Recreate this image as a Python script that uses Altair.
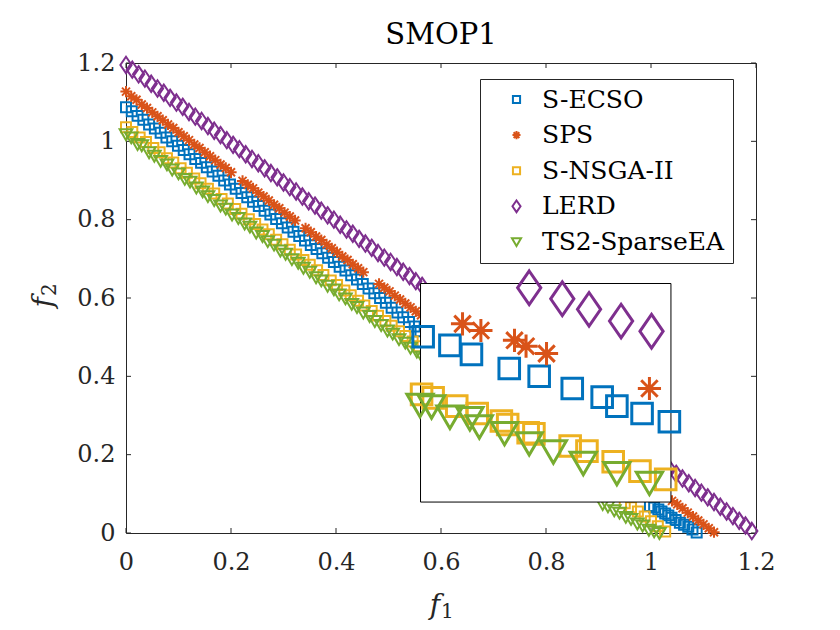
import altair as alt
import pandas as pd

series = ["S-ECSO", "SPS", "S-NSGA-II", "LERD", "TS2-SparseEA"]
colors = ["#0072BD", "#D95319", "#EDB120", "#7E2F8E", "#77AC30"]

# ---- main plot points (f1, f2) ----
secso_f1 = [0.000, 0.011, 0.022, 0.033, 0.044, 0.055, 0.066, 0.077, 0.088, 0.099, 0.110, 0.121, 0.132, 0.143,
            0.154, 0.165, 0.176, 0.187, 0.198, 0.209, 0.220, 0.231, 0.242, 0.253, 0.264, 0.275, 0.286, 0.297,
            0.308, 0.319, 0.330, 0.341, 0.352, 0.363, 0.374, 0.385, 0.396, 0.407, 0.418, 0.429, 0.440, 0.451,
            0.462, 0.473, 0.484, 0.495, 0.506, 0.517, 0.528, 0.539, 0.550, 0.561,
            0.998, 1.006, 1.014, 1.020, 1.027, 1.033, 1.039, 1.047, 1.055, 1.063, 1.071, 1.079, 1.087]
secso_f2 = [1.087, 1.077, 1.065, 1.055, 1.043, 1.033, 1.022, 1.010, 1.000, 0.989, 0.978, 0.967, 0.955, 0.945,
            0.934, 0.923, 0.912, 0.900, 0.890, 0.879, 0.868, 0.857, 0.846, 0.835, 0.823, 0.813, 0.802, 0.791,
            0.780, 0.769, 0.758, 0.747, 0.735, 0.725, 0.714, 0.703, 0.692, 0.680, 0.670, 0.658, 0.647, 0.636,
            0.624, 0.612, 0.600, 0.588, 0.575, 0.563, 0.551, 0.539, 0.527, 0.515,
            0.069, 0.065, 0.060, 0.055, 0.050, 0.045, 0.039, 0.033, 0.026, 0.021, 0.016, 0.009, 0.001]

sps_f1 = [0.000, 0.010, 0.020, 0.030, 0.040, 0.050, 0.060, 0.070, 0.080, 0.090, 0.100, 0.110, 0.120, 0.130,
          0.140, 0.150, 0.160, 0.170, 0.180, 0.190, 0.200,
          0.222, 0.232, 0.242, 0.252, 0.262, 0.272, 0.282, 0.292, 0.302, 0.312, 0.322,
          0.342, 0.352, 0.362, 0.372, 0.382, 0.392, 0.402, 0.412, 0.422, 0.432, 0.442, 0.452,
          0.482, 0.492, 0.502, 0.512, 0.522, 0.532, 0.542, 0.552, 0.562,
          1.040, 1.050, 1.060, 1.070, 1.080, 1.090, 1.100, 1.110, 1.120]
sps_f2 = [1.127, 1.115, 1.106, 1.094, 1.085, 1.074, 1.064, 1.054, 1.043, 1.034, 1.023, 1.013, 1.003, 0.992,
          0.983, 0.972, 0.962, 0.952, 0.941, 0.932, 0.921,
          0.899, 0.889, 0.880, 0.869, 0.859, 0.849, 0.838, 0.829, 0.818, 0.808, 0.798,
          0.778, 0.768, 0.757, 0.748, 0.737, 0.727, 0.717, 0.706, 0.697, 0.686, 0.676, 0.666,
          0.636, 0.626, 0.617, 0.606, 0.596, 0.586, 0.576, 0.566, 0.556,
          0.082, 0.073, 0.063, 0.052, 0.042, 0.032, 0.022, 0.012, 0.002]

snsga_f1 = [0.000, 0.012, 0.026, 0.038, 0.052, 0.064, 0.078, 0.090, 0.104, 0.116, 0.130, 0.142, 0.156, 0.168,
            0.182, 0.194, 0.208, 0.220, 0.234, 0.246, 0.260, 0.272, 0.286, 0.298, 0.312, 0.324, 0.338, 0.350,
            0.364, 0.376, 0.390, 0.402, 0.416, 0.428, 0.442, 0.454, 0.468, 0.480, 0.494, 0.506, 0.520, 0.532,
            0.546, 0.558,
            0.950, 0.962, 0.975, 0.988, 1.000, 1.013, 1.027]
snsga_f2 = [1.036, 1.024, 1.010, 0.998, 0.983, 0.972, 0.957, 0.946, 0.931, 0.920, 0.905, 0.893, 0.879, 0.867,
            0.853, 0.841, 0.827, 0.815, 0.801, 0.789, 0.775, 0.763, 0.749, 0.737, 0.723, 0.711, 0.697, 0.685,
            0.671, 0.659, 0.645, 0.633, 0.619, 0.607, 0.593, 0.581, 0.567, 0.555, 0.541, 0.529, 0.515, 0.503,
            0.489, 0.477,
            0.076, 0.066, 0.055, 0.042, 0.030, 0.017, 0.004]

lerd_f1 = [0.000, 0.012, 0.024, 0.036, 0.048, 0.060, 0.072, 0.084, 0.096, 0.108, 0.120, 0.132, 0.144, 0.156,
           0.168, 0.180, 0.192, 0.204, 0.216, 0.228, 0.240, 0.252, 0.264, 0.276, 0.288, 0.300, 0.312, 0.324,
           0.336, 0.348, 0.360, 0.372, 0.384, 0.396, 0.408, 0.420, 0.432, 0.444, 0.456, 0.468, 0.480, 0.492,
           0.504, 0.516, 0.528, 0.540, 0.552, 0.564,
           1.036, 1.048, 1.060, 1.072, 1.084, 1.096, 1.108, 1.120, 1.132, 1.144, 1.156, 1.168, 1.180, 1.192]
lerd_f2 = [1.195, 1.183, 1.171, 1.160, 1.147, 1.135, 1.124, 1.111, 1.099, 1.088, 1.075, 1.063, 1.052, 1.039,
           1.027, 1.016, 1.003, 0.991, 0.980, 0.967, 0.955, 0.944, 0.931, 0.919, 0.908, 0.895, 0.883, 0.872,
           0.859, 0.847, 0.836, 0.823, 0.811, 0.800, 0.787, 0.775, 0.764, 0.751, 0.739, 0.728, 0.715, 0.703,
           0.692, 0.679, 0.667, 0.656, 0.643, 0.631,
           0.163, 0.151, 0.139, 0.127, 0.115, 0.103, 0.091, 0.079, 0.067, 0.055, 0.043, 0.031, 0.019, 0.005]

ts2_f1 = [0.000, 0.010, 0.022, 0.030, 0.044, 0.054, 0.066, 0.078, 0.088, 0.100, 0.112, 0.122, 0.134, 0.146,
          0.156, 0.168, 0.180, 0.190, 0.202, 0.214, 0.226, 0.236, 0.248, 0.260, 0.270, 0.282, 0.294, 0.304,
          0.316, 0.328, 0.338, 0.350, 0.362, 0.372, 0.384, 0.396, 0.406, 0.418, 0.430, 0.440, 0.452, 0.464,
          0.474, 0.486, 0.498, 0.508, 0.520, 0.532, 0.542, 0.554, 0.564,
          0.908, 0.918, 0.930, 0.940, 0.952, 0.962, 0.974, 0.984, 0.996, 1.006, 1.016]
ts2_f2 = [1.018, 1.010, 0.993, 0.990, 0.972, 0.963, 0.950, 0.941, 0.928, 0.918, 0.904, 0.897, 0.882, 0.872,
          0.860, 0.850, 0.836, 0.828, 0.813, 0.804, 0.790, 0.782, 0.767, 0.758, 0.745, 0.736, 0.721, 0.713,
          0.699, 0.690, 0.677, 0.667, 0.653, 0.645, 0.631, 0.622, 0.609, 0.599, 0.585, 0.577, 0.563, 0.554,
          0.541, 0.531, 0.517, 0.509, 0.495, 0.486, 0.473, 0.463, 0.450,
          0.074, 0.068, 0.058, 0.052, 0.041, 0.036, 0.024, 0.019, 0.008, 0.004, 0.000]

# ---- inset (zoomed) points, read in main-axis coordinates ----
in_secso_f1 = [0.566, 0.617, 0.658, 0.730, 0.787, 0.850, 0.907, 0.935, 0.983, 1.035]
in_secso_f2 = [0.501, 0.479, 0.456, 0.420, 0.400, 0.369, 0.347, 0.324, 0.305, 0.284]
in_sps_f1 = [0.641, 0.676, 0.740, 0.762, 0.801, 0.997]
in_sps_f2 = [0.534, 0.517, 0.492, 0.477, 0.458, 0.369]
in_snsga_f1 = [0.563, 0.585, 0.630, 0.669, 0.715, 0.727, 0.766, 0.777, 0.846, 0.878, 0.928, 0.979, 1.028]
in_snsga_f2 = [0.354, 0.345, 0.324, 0.305, 0.286, 0.277, 0.256, 0.253, 0.222, 0.209, 0.182, 0.158, 0.137]
in_lerd_f1 = [0.768, 0.831, 0.882, 0.943, 1.001]
in_lerd_f2 = [0.626, 0.598, 0.571, 0.541, 0.515]
in_ts2_f1 = [0.560, 0.582, 0.617, 0.655, 0.673, 0.721, 0.768, 0.814, 0.871, 0.935, 0.997]
in_ts2_f2 = [0.328, 0.324, 0.298, 0.294, 0.273, 0.256, 0.230, 0.209, 0.180, 0.154, 0.129]

# inset frame extent in f1/f2 coordinates: [f1 min, f1 max, f2 min, f2 max]
inset_extent = [0.561, 1.038, 0.079, 0.637]

tick_values = [0, 0.2, 0.4, 0.6, 0.8, 1.0, 1.2]
title_text = "SMOP1"
x_title = ["f", "1"]
y_title = ["f", "2"]


def frame(names, f1s, f2s):
    rows = []
    for n, a, b in zip(names, f1s, f2s):
        for x, y in zip(a, b):
            rows.append({"series": n, "f1": x, "f2": y})
    return pd.DataFrame(rows)


main_df = frame(series, [secso_f1, sps_f1, snsga_f1, lerd_f1, ts2_f1],
                [secso_f2, sps_f2, snsga_f2, lerd_f2, ts2_f2])
inset_df = frame(series, [in_secso_f1, in_sps_f1, in_snsga_f1, in_lerd_f1, in_ts2_f1],
                 [in_secso_f2, in_sps_f2, in_snsga_f2, in_lerd_f2, in_ts2_f2])
box_df = pd.DataFrame([{"x1": inset_extent[0], "x2": inset_extent[1],
                        "y1": inset_extent[2], "y2": inset_extent[3]}])
ticks_df = pd.DataFrame({"t": tick_values})

SQUARE = "M-0.55,-0.55L0.55,-0.55L0.55,0.55L-0.55,0.55Z"
ASTER = "M-0.62,0L0.62,0M0,-0.62L0,0.62M-0.44,-0.44L0.44,0.44M-0.44,0.44L0.44,-0.44"
DIAMOND = "M0,-0.9L0.62,0L0,0.9L-0.62,0Z"
TRI = "M-0.7,-0.55L0.7,-0.55L0,0.65Z"
shapes = [SQUARE, ASTER, SQUARE, DIAMOND, TRI]

FONT = "DejaVu Serif"
TXT = "#262626"
xscale = alt.Scale(domain=[0, 1.2], nice=False, zero=False)
yscale = alt.Scale(domain=[0, 1.2], nice=False, zero=False)

W, H = 630, 470

legend = alt.Legend(
    orient="none", legendX=354, legendY=16, title=None,
    strokeColor=TXT, fillColor="white", padding=8,
    labelFont=FONT, labelFontSize=25, labelColor="black", labelLimit=400,
    symbolSize=169, symbolStrokeWidth=2, symbolOffset=16, labelOffset=13,
    rowPadding=9.6,
)
color_enc = alt.Color("series:N", scale=alt.Scale(domain=series, range=colors),
                      sort=series, title=None, legend=legend)
shape_enc = alt.Shape("series:N", scale=alt.Scale(domain=series, range=shapes),
                      sort=series, title=None, legend=legend)

axis_common = dict(values=tick_values, format="~g", title=None, grid=False, ticks=False,
                   tickSize=0, domain=False, labelFlush=False, labelFont=FONT,
                   labelFontSize=24, labelColor=TXT)
xaxis = alt.Axis(labelPadding=17, **axis_common)
yaxis = alt.Axis(labelPadding=11, **axis_common)

main = alt.Chart(main_df).mark_point(filled=False, strokeWidth=2, size=330, opacity=1).encode(
    x=alt.X("f1:Q", scale=xscale, axis=xaxis),
    y=alt.Y("f2:Q", scale=yscale, axis=yaxis),
    color=color_enc,
    shape=shape_enc,
)

box = alt.Chart(box_df).mark_rect(fill="white", stroke="black", strokeWidth=1).encode(
    x=alt.X("x1:Q", scale=xscale), x2="x2:Q",
    y=alt.Y("y1:Q", scale=yscale), y2="y2:Q",
)

inset = alt.Chart(inset_df).mark_point(filled=False, strokeWidth=3, size=1400, opacity=1).encode(
    x=alt.X("f1:Q", scale=xscale),
    y=alt.Y("f2:Q", scale=yscale),
    color=color_enc,
    shape=shape_enc,
)

tb = alt.Chart(ticks_df).mark_rule(color=TXT, strokeWidth=1).encode(
    x=alt.X("t:Q", scale=xscale), y=alt.value(H), y2=alt.value(H - 5))
tt = alt.Chart(ticks_df).mark_rule(color=TXT, strokeWidth=1).encode(
    x=alt.X("t:Q", scale=xscale), y=alt.value(0), y2=alt.value(5))
tl = alt.Chart(ticks_df).mark_rule(color=TXT, strokeWidth=1).encode(
    y=alt.Y("t:Q", scale=yscale), x=alt.value(0), x2=alt.value(5))
tr = alt.Chart(ticks_df).mark_rule(color=TXT, strokeWidth=1).encode(
    y=alt.Y("t:Q", scale=yscale), x=alt.value(W), x2=alt.value(W - 5))

# axis titles: italic f with upright subscript
one = pd.DataFrame({"t": [0]})
xf = alt.Chart(one).mark_text(font=FONT, fontSize=28, fontStyle="italic", color=TXT,
                              align="right", baseline="alphabetic").encode(
    text=alt.value(x_title[0]), x=alt.value(314), y=alt.value(551))
xs = alt.Chart(one).mark_text(font=FONT, fontSize=20, color=TXT,
                              align="left", baseline="alphabetic").encode(
    text=alt.value(x_title[1]), x=alt.value(315), y=alt.value(555))
yf = alt.Chart(one).mark_text(font=FONT, fontSize=28, fontStyle="italic", color=TXT,
                              align="right", baseline="alphabetic", angle=270).encode(
    text=alt.value(y_title[0]), x=alt.value(-74), y=alt.value(234))
ys = alt.Chart(one).mark_text(font=FONT, fontSize=20, color=TXT,
                              align="left", baseline="alphabetic", angle=270).encode(
    text=alt.value(y_title[1]), x=alt.value(-70), y=alt.value(233))

chart = alt.layer(tb, tt, tl, tr, main, box, inset, xf, xs, yf, ys).properties(
    width=W, height=H,
    title=alt.TitleParams(title_text, font=FONT, fontSize=29, fontWeight="normal", color="black",
                          anchor="middle", offset=1),
    autosize=alt.AutoSizeParams(type="none"),
    padding={"left": 118, "top": 55, "right": 70, "bottom": 89},
).configure_view(stroke=TXT, strokeWidth=1)

chart.save("out.html", embed_options={"renderer": "svg", "actions": False})
